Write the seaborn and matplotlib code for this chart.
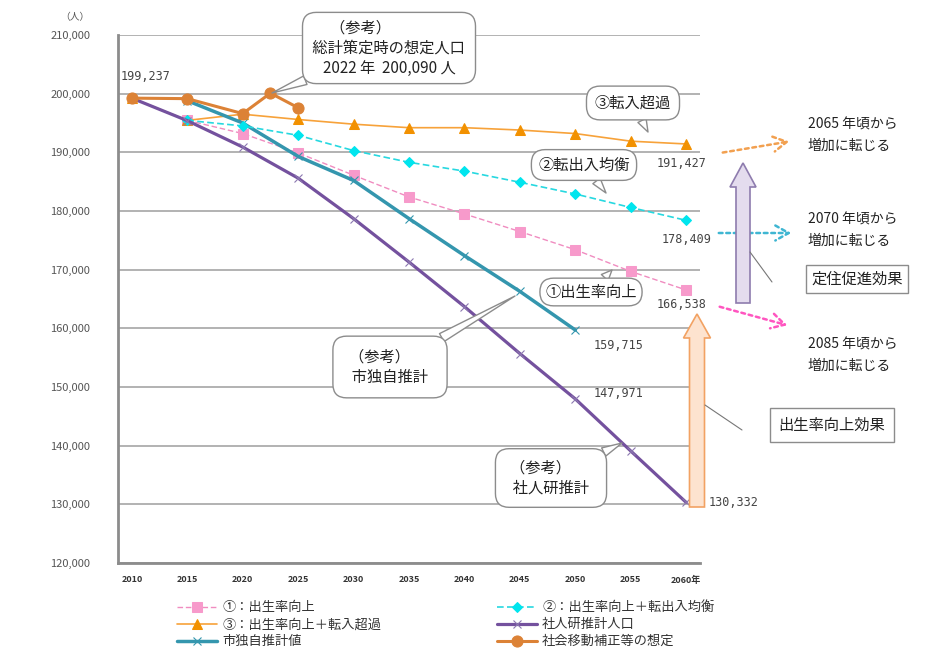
import matplotlib
matplotlib.use("Agg")
import matplotlib.pyplot as plt
import matplotlib.transforms as mtransforms
from matplotlib.patches import FancyArrow
from matplotlib.lines import Line2D
import seaborn as sns

# ---- data ----
years_all = [2010, 2015, 2020, 2025, 2030, 2035, 2040, 2045, 2050, 2055, 2060]
years_scen = years_all[1:]
years_city = years_all[1:9]
years_assumed = [2010, 2015, 2020, 2022.5, 2025]

pop_birth_up = [195450, 193200, 189900, 186100, 182400, 179500, 176500, 173400, 169700, 166538]
pop_balance = [195450, 194500, 192900, 190300, 188300, 186800, 184900, 182900, 180600, 178409]
pop_inflow = [199237, 195450, 196500, 195600, 194800, 194200, 194200, 193800, 193200, 191900, 191427]
pop_ipss = [199237, 195400, 190900, 185600, 178700, 171300, 163700, 155700, 147971, 139100, 130332]
pop_city = [198800, 195000, 189300, 185200, 178700, 172400, 166300, 159715]
pop_assumed = [199237, 199150, 196600, 200090, 197600]

x_tick_labels = ["2010", "2015", "2020", "2025", "2030", "2035",
                 "2040", "2045", "2050", "2055", "2060年"]
y_ticks = list(range(120000, 210001, 10000))

series_labels = ["①：出生率向上", "③：出生率向上＋転入超過", "市独自推計値",
                 "②：出生率向上＋転出入均衡", "社人研推計人口", "社会移動補正等の想定"]

sns.set_theme(style="white")
plt.rcParams['font.family'] = ['Noto Sans CJK JP', 'DejaVu Sans']

W, H = 927, 650
fig = plt.figure(figsize=(W / 100, H / 100), dpi=100)
ax = fig.add_axes([118 / W, 1 - 563 / H, 582 / W, 528 / H])
# pixel coordinates, origin top-left
pix = mtransforms.Affine2D().scale(1 / W, -1 / H).translate(0, 1) + fig.transFigure

# ---- lines ----
sns.lineplot(x=years_scen, y=pop_birth_up, ax=ax, color="#F08CC0", linestyle=(0, (4, 2)),
             linewidth=1.0, marker="s", markersize=6.5, markeredgecolor="#F79ACB",
             markerfacecolor="#F79ACB", label=series_labels[0])
sns.lineplot(x=years_all, y=pop_inflow, ax=ax, color="#F7A23A", linewidth=1.2,
             marker="^", markersize=7.5, markeredgecolor="#F29100",
             markerfacecolor="#F29100", label=series_labels[1])
sns.lineplot(x=years_city, y=pop_city, ax=ax, color="#3496AE", linewidth=2.5,
             marker="x", markersize=6, markeredgecolor="#3496AE", markeredgewidth=0.8,
             label=series_labels[2])
sns.lineplot(x=years_scen, y=pop_balance, ax=ax, color="#27D8E0", linestyle=(0, (4, 2)),
             linewidth=1.2, marker="D", markersize=5.5, markeredgecolor="#00E5EE",
             markerfacecolor="#00E5EE", label=series_labels[3])
sns.lineplot(x=years_all, y=pop_ipss, ax=ax, color="#74519E", linewidth=2.3,
             marker="x", markersize=6, markeredgecolor="#8C78B0", markeredgewidth=0.8,
             label=series_labels[4])
sns.lineplot(x=years_assumed, y=pop_assumed, ax=ax, color="#DC8236", linewidth=2.2,
             marker="o", markersize=8, markeredgecolor="#DC8236",
             markerfacecolor="#DC8236", label=series_labels[5])

# ---- axes ----
ax.set_xlim(2008.75, 2061.25)
ax.set_ylim(120000, 210000)
ax.set_yticks(y_ticks)
ax.set_yticklabels([f"{v:,}" for v in y_ticks], fontsize=8, color="#555555")
ax.set_xticks(years_all)
ax.set_xticklabels(x_tick_labels, fontsize=6.5, fontweight="bold", color="#333333")
ax.tick_params(axis="x", length=0, pad=9)
ax.tick_params(axis="y", length=0, pad=20)
ax.set_xticks([2008.75 + 2.5 * k for k in range(1, 21)], minor=True)
ax.tick_params(axis="x", which="minor", direction="in", length=3, color="#999999")
ax.grid(axis="y", color="#A6A6A6", linewidth=1.2)
ax.set_xlabel("")
ax.set_ylabel("")
for side in ["top", "right"]:
    ax.spines[side].set_visible(False)
for side in ["left", "bottom"]:
    ax.spines[side].set_color("#8C8C8C")
    ax.spines[side].set_linewidth(2)

fig.text(75 / W, 1 - 17 / H, "（人）", fontsize=7, color="#555555", ha="center", va="center")

# ---- value labels ----
val_style = dict(textcoords="offset pixels", fontsize=8.5, color="#444444",
                 family=["DejaVu Sans Mono", "DejaVu Sans"], va="center", ha="left")
ax.annotate(f"{pop_ipss[0]:,}", xy=(years_all[0], pop_ipss[0]), xytext=(-11, 22), **val_style)
ax.annotate(f"{pop_inflow[-1]:,}", xy=(years_all[-1], pop_inflow[-1]), xytext=(-30, -20), **val_style)
ax.annotate(f"{pop_balance[-1]:,}", xy=(years_scen[-1], pop_balance[-1]), xytext=(-25, -19), **val_style)
ax.annotate(f"{pop_birth_up[-1]:,}", xy=(years_scen[-1], pop_birth_up[-1]), xytext=(-30, -15), **val_style)
ax.annotate(f"{pop_city[-1]:,}", xy=(years_city[-1], pop_city[-1]), xytext=(18, -15), **val_style)
ax.annotate(f"{pop_ipss[-3]:,}", xy=(years_all[-3], pop_ipss[-3]), xytext=(18, 5), **val_style)
ax.annotate(f"{pop_ipss[-1]:,}", xy=(years_all[-1], pop_ipss[-1]), xytext=(22, 0), **val_style)

# ---- speech-bubble callouts ----
def bubble(text, center, target, size=11, pad=0.5, tail=0.6):
    ax.annotate(text, xy=target, xycoords=pix, xytext=center, textcoords=pix,
                ha="center", va="center", fontsize=size, color="#222222",
                annotation_clip=False, linespacing=1.25,
                bbox=dict(boxstyle=f"round,pad={pad},rounding_size=0.9", fc="white",
                          ec="#8C8C8C", lw=1),
                arrowprops=dict(arrowstyle=f"wedge,tail_width={tail}", fc="white",
                                ec="#8C8C8C", lw=1, shrinkA=0, shrinkB=0))

bubble("（参考）                 \n 総計策定時の想定人口 \n2022 年  200,090 人", (389, 48), (272, 93),
       size=11, pad=0.45)
bubble("③転入超過", (633, 103), (648, 132), size=11, pad=0.55)
bubble("②転出入均衡", (584, 165), (606, 193), size=11, pad=0.45)
bubble("①出生率向上", (591, 292), (612, 270), size=11, pad=0.35)
bubble("（参考）      \n  市独自推計  ", (390, 367), (515, 296), size=11, pad=0.8)
bubble("（参考）      \n  社人研推計  ", (551, 478), (622, 443), size=11, pad=0.7)

# ---- effect arrows ----
fig.add_artist(FancyArrow(743, 303, 0, -140, width=14, head_width=26, head_length=24,
                          length_includes_head=True, transform=pix,
                          fc="#E4DCEE", ec="#8E7CAE", lw=1.2))
fig.add_artist(FancyArrow(697, 507, 0, -193, width=15, head_width=27, head_length=24,
                          length_includes_head=True, transform=pix,
                          fc="#FDE3CF", ec="#F2A263", lw=1.2))

# dotted trend arrows
for start, end, col in [((720, 153), (792, 141), "#F2A050"),
                        ((716, 233), (794, 233), "#3FB6D2"),
                        ((717, 306), (790, 326), "#FF55C0")]:
    ax.annotate("", xy=end, xycoords=pix, xytext=start, textcoords=pix,
                annotation_clip=False,
                arrowprops=dict(arrowstyle="->,head_length=0.8,head_width=0.45",
                                linestyle=(0, (1.5, 1.5)), color=col, lw=1.8))

for y0, txt in [(135, "2065 年頃から\n増加に転じる"),
                (230, "2070 年頃から\n増加に転じる"),
                (355, "2085 年頃から\n増加に転じる")]:
    fig.text(808 / W, 1 - y0 / H, txt, fontsize=10, color="#222222", va="center",
             ha="left", linespacing=1.6)

# effect boxes with leader lines
fig.text(857 / W, 1 - 279 / H, "定住促進効果", fontsize=11, color="#222222",
         ha="center", va="center",
         bbox=dict(boxstyle="square,pad=0.35", fc="white", ec="#8C8C8C", lw=1))
fig.add_artist(Line2D([750, 772], [252, 282], transform=pix, color="#777777", lw=0.8))
fig.text(832 / W, 1 - 425 / H, "出生率向上効果", fontsize=11, color="#222222",
         ha="center", va="center",
         bbox=dict(boxstyle="square,pad=0.55", fc="white", ec="#8C8C8C", lw=1))
fig.add_artist(Line2D([705, 742], [405, 430], transform=pix, color="#777777", lw=0.8))

# ---- legend ----
handles, labels = ax.get_legend_handles_labels()
ax.get_legend().remove()
fig.legend(handles, labels, ncol=2, loc="upper left", bbox_to_anchor=(172 / W, 1 - 596 / H),
           frameon=False, fontsize=9.5, handlelength=3, columnspacing=8.8,
           labelspacing=0.3, handletextpad=0.4, borderaxespad=0, labelcolor="#333333")

fig.savefig("out.png", dpi=100)
